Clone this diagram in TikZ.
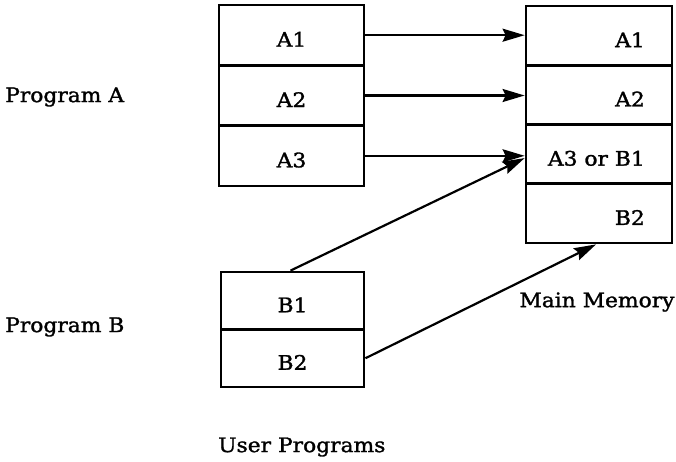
\documentclass[tikz,border=0pt]{standalone}
\usepackage{fontspec}
\setmainfont{DejaVu Serif}[FakeStretch=1.09,FakeBold=1.5]
\usetikzlibrary{arrows.meta}
\begin{document}
\begin{tikzpicture}[x=1pt,y=-1pt,
  txt/.style={font=\fontsize{20}{23}\selectfont, inner sep=0pt},
  cell/.style={txt, draw, line width=2.8pt, text height=23pt, text depth=0pt},
  pcell/.style={cell, minimum width=145pt, minimum height=60.33pt},
  bcell/.style={cell, minimum width=143pt, minimum height=57.5pt},
  mcell/.style={cell, minimum width=146pt, minimum height=59.25pt},
  mtxt/.style={txt, anchor=east, text height=23pt, text depth=0pt},
  link/.style={line width=2.2pt, -{Stealth[length=22pt,width=13pt,inset=3pt]}}]
\useasboundingbox (0,0) rectangle (676,461);

% program A pages
\node[pcell] (a1) at (291.5,35.2) {A1};
\node[pcell] (a2) at (291.5,95.5) {A2};
\node[pcell] (a3) at (291.5,155.8) {A3};

% program B pages
\node[bcell] (b1) at (292.5,300.75) {B1};
\node[bcell] (b2) at (292.5,358.25) {B2};

% main memory frames, contents set flush right
\node[mcell] (m1) at (599,35.6) {};
\node[mcell] (m2) at (599,94.9) {};
\node[mcell] (m3) at (599,154.1) {};
\node[mcell] (m4) at (599,213.4) {};
\node[mtxt] (t1) at (645,35.6) {A1};
\node[mtxt] (t2) at (645,94.9) {A2};
\node[mtxt] (t3) at (645,154.1) {A3 or B1};
\node[mtxt] (t4) at (645,213.4) {B2};

% captions
\node[txt, anchor=west] (pa) at (5,97) {Program A};
\node[txt, anchor=west] (pb) at (5,327) {Program B};
\node[txt] (mm) at (597,302) {Main Memory};
\node[txt, anchor=west] (up) at (218,447) {User Programs};

% page mappings
\draw[link] (a1.east) -- (a1.east -| m1.west);
\draw[link] (a2.east) -- (a2.east -| m2.west);
\draw[link] (a3.east) -- (a3.east -| m3.west);
\draw[link] ([xshift=-2pt]b1.north) -- ([yshift=-4pt]m3.west);
\draw[link] (b2.east) -- ([xshift=-3pt]m4.south);
\end{tikzpicture}
\end{document}
